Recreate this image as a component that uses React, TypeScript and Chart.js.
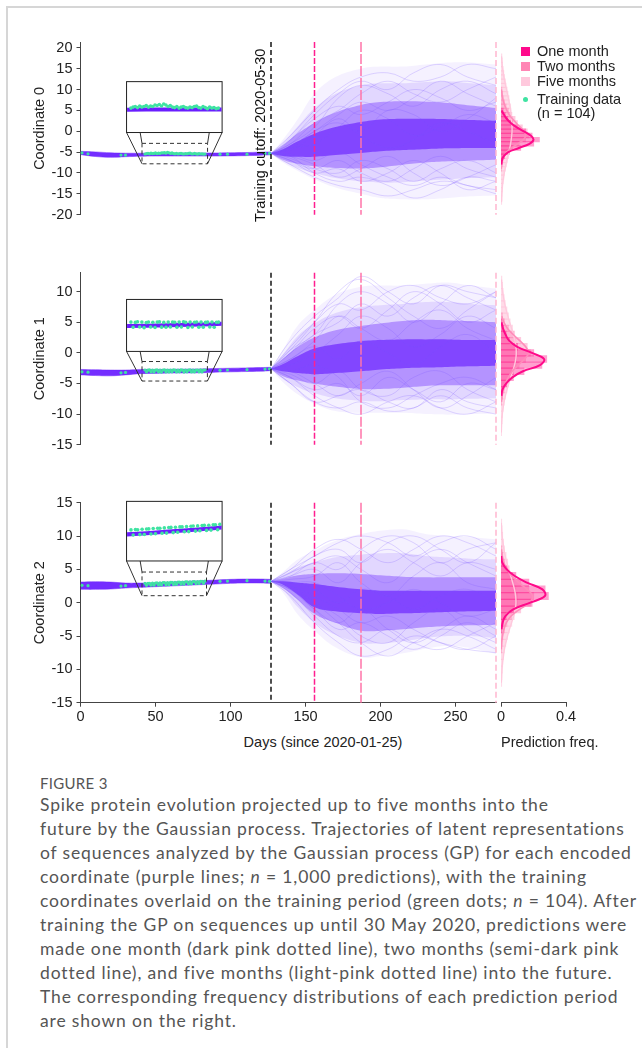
import React, { useEffect, useRef } from "react";
import { Chart, registerables } from "chart.js";

Chart.register(...registerables);

const AXIS_FONT = "'Liberation Sans', Arial, Helvetica, sans-serif";
const CAPTION_FONT = "Lato, 'Open Sans', sans-serif";
Chart.defaults.font.family = AXIS_FONT;
Chart.defaults.font.size = 14.5;
Chart.defaults.color = "#222";

// ---------- shared x data ----------
const xTicks = [0, 50, 100, 150, 200, 250];
const dayMax = 277;
const freqTicks = [0, 0.4];
const freqMax = 0.4;
const milestoneDays = [127, 156, 187, 277];
const milestoneColors = ["#151515", "#ff1f8f", "#ff74a9", "#ffb6cf"];
const milestoneDash = [[5, 3], [6, 2], [10, 2], [6, 3]];
const cutoffLabel = "Training cutoff: 2020-05-30";

const fanDays = [127, 135, 145, 156, 170, 187, 200, 215, 230, 245, 260, 277];
const trajDays = [127, 140, 156, 172, 187, 205, 222, 240, 258, 277];
const trainBandDays = [0, 10, 20, 30, 40, 50, 60, 70, 80, 90, 100, 110, 120, 127];
const trainDays = [1, 5, 27, 30,
  43, 44, 45, 46, 47, 48, 49, 50, 51, 52, 53, 54, 55, 56, 57, 58, 59, 60, 61, 62, 63,
  64, 65, 66, 67, 68, 69, 70, 71, 72, 73, 74, 75, 76, 77, 78, 79, 80, 81, 82, 83,
  93, 98, 111, 123, 126];

// ---------- legend ----------
const legendLabels = ["One month", "Two months", "Five months"];
const legendColors = ["#ff0a8c", "#ff86b5", "#ffc9dd"];
const trainingLabel = ["Training data", "(n = 104)"];

// ---------- Coordinate 0 ----------
const c0YTicks = [20, 15, 10, 5, 0, -5, -10, -15, -20];
const c0TrainHi = [-4.8, -4.95, -5.15, -5.25, -5.25, -5.2, -5.2, -5.2, -5.2, -5.2, -5.15, -5.1, -5.0, -4.95];
const c0TrainLo = [-5.6, -6.05, -6.25, -6.1, -6.0, -5.95, -5.95, -5.95, -5.95, -5.95, -5.9, -5.85, -5.75, -5.65];
const c0TrainVals = [-5.2, -5.4, -5.7, -5.7,
  -5.45, -5.35, -5.3, -5.4, -5.25, -5.35, -5.3, -5.2, -5.35, -5.25, -5.3, -5.15, -5.2, -5.1, -5.25, -5.05, -5.15, -5.3, -5.2, -5.35, -5.4,
  -5.3, -5.45, -5.35, -5.3, -5.4, -5.45, -5.35, -5.4, -5.3, -5.25, -5.4, -5.45, -5.3, -5.4, -5.5, -5.35, -5.45, -5.4, -5.5, -5.45,
  -5.5, -5.5, -5.5, -5.3, -5.3];
const c0OuterHi = [-5.3, -2.0, 3.0, 9.0, 13.0, 15.0, 15.5, 15.5, 16.0, 16.5, 16.5, 16.0];
const c0OuterLo = [-5.3, -7.5, -9.5, -11.5, -13.5, -15.0, -16.0, -16.3, -16.3, -16.0, -15.6, -15.4];
const c0WideHi = [-5.3, -2.8, 1.2, 5.5, 9.0, 11.0, 11.5, 11.5, 11.8, 12.0, 11.5, 11.0];
const c0WideLo = [-5.3, -7.2, -8.8, -10.0, -11.2, -12.0, -12.3, -12.2, -11.8, -11.5, -11.2, -11.0];
const c0MidHi = [-5.3, -3.5, -0.5, 2.0, 4.5, 6.3, 7.0, 7.2, 7.1, 6.8, 6.2, 5.6];
const c0MidLo = [-5.3, -6.8, -7.8, -8.4, -8.8, -8.9, -8.6, -8.0, -7.5, -7.2, -7.0, -6.8];
const c0CoreHi = [-5.3, -4.3, -2.4, -0.6, 1.0, 2.2, 2.8, 3.0, 3.0, 2.9, 2.7, 2.5];
const c0CoreLo = [-5.3, -5.9, -6.1, -6.1, -5.7, -5.2, -4.8, -4.5, -4.3, -4.1, -4.0, -4.0];
const c0Traj = [
  [-5.3, -1, 5, 10, 13, 14, 12, 13, 16, 15],
  [-5.3, -8, -11, -13, -14, -15.5, -14, -12, -13, -15],
  [-5.3, -2, 3, 6, 4, 7, 10, 8, 5, 7],
  [-5.3, -7, -9, -7, -10, -12, -9, -6, -9, -11],
  [-5.3, -4, 0, 2, -1, -4, -2, 2, 0, -3],
  [-5.3, -3, 1, 8, 11, 9, 6, 10, 12, 9],
  [-5.3, -6, -8, -11, -9, -6, -10, -13, -11, -8],
  [-5.3, -4, -3, 1, 5, 3, -1, 1, 4, 2],
  [-5.3, -2, 4, 9, 12, 10, 14, 16, 13, 11],
  [-5.3, -6, -10, -12, -11, -13, -16, -14, -11, -12],
  [-5.3, -3, 2, 5, 9, 12, 9, 7, 10, 13],
  [-5.3, -7, -10, -9, -12, -10, -7, -10, -14, -12],
  [-5.3, -3.5, 0, 4, 7, 5, 8, 12, 9, 6],
  [-5.3, -6.5, -9, -10, -7, -9, -12, -9, -7, -10],
  [-5.3, -4.5, -1, 3, 0, 5, 4, 0, 3, 8],
  [-5.3, -5.5, -7, -5, -8, -11, -13, -11, -13, -14],
];
const c0Bins = [18, 17, 16, 15, 14, 13, 12, 11, 10, 9, 8, 7, 6, 5, 4, 3, 2, 1, 0, -1, -2, -3, -4, -5, -6, -7, -8, -9, -10, -11, -12, -13, -14, -15, -16, -17];
const c0OneHist = [0, 0, 0, 0, 0, 0, 0, 0, 0, 0, 0, 0, 0, 0.012, 0.025, 0.04, 0.07, 0.1, 0.15, 0.19, 0.235, 0.2, 0.12, 0.05, 0.02, 0.008, 0.003, 0, 0, 0, 0, 0, 0, 0, 0, 0];
const c0OneKde = [null, null, null, null, null, null, null, null, null, null, null, null, null, 0.004, 0.018, 0.035, 0.06, 0.095, 0.14, 0.182, 0.2, 0.175, 0.11, 0.045, 0.016, 0.006, 0.002, null, null, null, null, null, null, null, null, null];
const c0TwoHist = [0, 0, 0, 0, 0, 0, 0, 0, 0.004, 0.008, 0.012, 0.02, 0.03, 0.045, 0.06, 0.085, 0.1, 0.13, 0.16, 0.17, 0.15, 0.11, 0.07, 0.04, 0.02, 0.01, 0.005, 0.002, 0, 0, 0, 0, 0, 0, 0, 0];
const c0TwoKde = [null, null, null, null, null, null, null, null, 0.003, 0.006, 0.01, 0.016, 0.025, 0.036, 0.05, 0.07, 0.093, 0.118, 0.142, 0.152, 0.138, 0.103, 0.065, 0.035, 0.018, 0.009, 0.004, 0.002, null, null, null, null, null, null, null, null];
const c0FiveHist = [0.004, 0.006, 0.008, 0.012, 0.016, 0.02, 0.026, 0.03, 0.036, 0.042, 0.048, 0.05, 0.058, 0.06, 0.066, 0.068, 0.07, 0.072, 0.07, 0.068, 0.066, 0.06, 0.056, 0.05, 0.045, 0.038, 0.032, 0.026, 0.02, 0.016, 0.012, 0.009, 0.007, 0.005, 0.004, 0.003];
const c0FiveKde = [0.003, 0.005, 0.007, 0.01, 0.014, 0.018, 0.023, 0.028, 0.034, 0.039, 0.045, 0.05, 0.055, 0.059, 0.062, 0.065, 0.067, 0.068, 0.068, 0.066, 0.063, 0.059, 0.054, 0.048, 0.042, 0.036, 0.03, 0.025, 0.02, 0.016, 0.012, 0.009, 0.007, 0.005, 0.004, 0.003];
const c0Inset = [30.7, 94.4, -0.3, 11.9];
const c0Window = [41, 84.7, -7.8, -2.9];

// ---------- Coordinate 1 ----------
const c1YTicks = [10, 5, 0, -5, -10, -15];
const c1TrainHi = [-2.7, -2.75, -2.8, -2.8, -2.7, -2.7, -2.68, -2.65, -2.62, -2.55, -2.5, -2.45, -2.4, -2.35];
const c1TrainLo = [-3.6, -3.7, -3.75, -3.6, -3.4, -3.35, -3.3, -3.28, -3.25, -3.15, -3.1, -3.05, -3.0, -2.9];
const c1TrainVals = [-3.1, -3.15, -3.25, -3.2,
  -2.8, -3.12, -2.82, -2.78, -3.1, -2.8, -3.14, -2.83, -2.79, -3.1, -2.81, -3.13, -2.8, -2.78, -3.11, -2.82, -3.12, -2.8, -3.1, -2.79, -2.81,
  -3.12, -2.8, -3.1, -2.78, -2.82, -3.13, -2.8, -3.1, -2.81, -2.79, -3.12, -2.8, -3.11, -2.82, -2.8, -3.1, -2.79, -3.12, -2.81, -2.8,
  -2.85, -2.8, -2.75, -2.65, -2.6];
const c1OuterHi = [-2.6, 0.5, 4.5, 7.0, 9.5, 10.8, 11.0, 11.0, 11.3, 11.5, 11.0, 10.5];
const c1OuterLo = [-2.6, -4.8, -6.8, -8.3, -9.5, -9.8, -9.8, -9.8, -10.0, -10.1, -10.0, -9.9];
const c1WideHi = [-2.6, -0.3, 2.8, 4.8, 6.5, 7.5, 7.8, 8.0, 8.3, 8.3, 8.0, 7.8];
const c1WideLo = [-2.6, -4.3, -5.6, -6.6, -7.4, -7.8, -7.9, -7.7, -7.6, -7.6, -7.5, -7.4];
const c1MidHi = [-2.6, -1.0, 1.0, 2.5, 3.7, 4.4, 4.8, 5.2, 5.4, 5.3, 5.2, 5.0];
const c1MidLo = [-2.6, -3.8, -4.5, -5.0, -5.5, -5.9, -5.9, -5.7, -5.4, -5.3, -5.3, -5.3];
const c1CoreHi = [-2.6, -1.8, -0.5, 0.7, 1.4, 1.9, 2.1, 2.2, 2.2, 2.2, 2.1, 2.1];
const c1CoreLo = [-2.6, -3.0, -3.3, -3.5, -3.3, -3.0, -2.7, -2.5, -2.4, -2.3, -2.2, -2.1];
const c1Traj = [
  [-2.6, 2, 6, 9, 12.5, 10, 8, 11, 10, 9],
  [-2.6, -5, -8, -9, -8, -9.5, -9, -7, -9, -10],
  [-2.6, 0, 4, 6, 4, 7, 10, 8, 5, 7],
  [-2.6, -4, -6, -5, -7, -4, -6, -8, -5, -6],
  [-2.6, -1, 1, -1, 2, 0, -2, 1, 3, 0],
  [-2.6, 0.5, 3, 8, 10, 8, 5, 8, 11, 9],
  [-2.6, -3, -5, -7, -5, -3, -6, -9, -7, -4],
  [-2.6, -2, 0, 3, 6, 4, 1, 3, 6, 4],
  [-2.6, 1, 5, 8, 7, 10, 11, 9, 8, 10],
  [-2.6, -4, -7, -9, -10, -8, -7, -9, -10, -8],
  [-2.6, 0, 3, 5, 8, 6, 9, 11, 9, 7],
  [-2.6, -5, -8, -7, -6, -8, -9, -6, -8, -9],
  [-2.6, -1, 2, 6, 4, 2, 5, 7, 4, 2],
  [-2.6, -3.5, -5, -3, -6, -7, -4, -3, -6, -8],
  [-2.6, 0.5, 5, 10, 12, 9, 6, 4, 7, 10],
  [-2.6, -3, -2, -4, -8, -9, -7, -5, -4, -6],
];
const c1Bins = [12, 11, 10, 9, 8, 7, 6, 5, 4, 3, 2, 1, 0, -1, -2, -3, -4, -5, -6, -7, -8, -9, -10, -11, -12, -13];
const c1OneHist = [0, 0, 0, 0, 0, 0, 0, 0.006, 0.015, 0.03, 0.05, 0.1, 0.2, 0.28, 0.25, 0.14, 0.075, 0.035, 0.01, 0.004, 0, 0, 0, 0, 0, 0];
const c1OneKde = [null, null, null, null, null, null, null, 0.003, 0.012, 0.028, 0.05, 0.1, 0.19, 0.265, 0.24, 0.135, 0.07, 0.032, 0.009, 0.003, null, null, null, null, null, null];
const c1TwoHist = [0, 0, 0, 0, 0, 0, 0.008, 0.02, 0.045, 0.08, 0.12, 0.16, 0.18, 0.15, 0.11, 0.075, 0.05, 0.03, 0.018, 0.008, 0.003, 0, 0, 0, 0, 0];
const c1TwoKde = [null, null, null, null, null, null, 0.005, 0.018, 0.04, 0.075, 0.115, 0.152, 0.17, 0.145, 0.105, 0.07, 0.045, 0.027, 0.015, 0.007, 0.003, null, null, null, null, null];
const c1FiveHist = [0.004, 0.008, 0.012, 0.018, 0.025, 0.035, 0.045, 0.055, 0.07, 0.08, 0.09, 0.1, 0.1, 0.095, 0.085, 0.07, 0.058, 0.045, 0.035, 0.025, 0.018, 0.012, 0.008, 0.005, 0.003, 0.002];
const c1FiveKde = [0.003, 0.006, 0.01, 0.016, 0.023, 0.032, 0.042, 0.053, 0.065, 0.076, 0.085, 0.092, 0.094, 0.091, 0.083, 0.072, 0.06, 0.048, 0.037, 0.027, 0.019, 0.013, 0.008, 0.005, 0.003, 0.002];
const c1Inset = [30.7, 94.4, 0.24, 8.73];
const c1Window = [41, 84.6, -4.6, -1.41];

// ---------- Coordinate 2 ----------
const c2YTicks = [15, 10, 5, 0, -5, -10, -15];
const c2TrainHi = [3.1, 3.15, 3.1, 2.95, 2.95, 3.0, 3.1, 3.2, 3.3, 3.4, 3.5, 3.55, 3.55, 3.5];
const c2TrainLo = [2.0, 2.0, 2.05, 2.2, 2.3, 2.4, 2.5, 2.6, 2.7, 2.8, 2.9, 2.95, 2.95, 2.9];
const c2TrainVals = [2.6, 2.55, 2.5, 2.55,
  2.9, 2.6, 2.92, 2.91, 2.62, 2.94, 2.63, 2.95, 2.96, 2.66, 2.98, 2.67, 3.0, 3.0, 2.7, 3.02, 2.71, 3.04, 3.05, 2.74, 3.06,
  2.76, 3.08, 3.08, 2.79, 3.1, 2.8, 3.12, 3.13, 2.83, 3.14, 2.85, 3.16, 3.17, 2.87, 3.18, 2.89, 3.2, 3.21, 2.91, 3.23,
  3.2, 3.25, 3.3, 3.25, 3.2];
const c2OuterHi = [3.2, 4.6, 6.5, 7.8, 9.3, 10.3, 10.8, 11.0, 10.3, 10.0, 9.8, 9.5];
const c2OuterLo = [3.2, 1.5, -1.8, -4.2, -6.7, -8.2, -8.0, -7.6, -6.9, -6.5, -6.8, -7.7];
const c2WideHi = [3.2, 4.1, 5.3, 6.0, 6.8, 7.2, 7.4, 7.4, 7.0, 6.8, 6.6, 6.5];
const c2WideLo = [3.2, 1.9, -0.7, -3.0, -4.8, -6.0, -6.1, -5.8, -5.3, -5.0, -5.0, -5.3];
const c2MidHi = [3.2, 3.6, 4.1, 4.3, 4.4, 4.3, 4.1, 3.9, 3.8, 3.8, 3.8, 3.8];
const c2MidLo = [3.2, 2.2, 0.4, -1.7, -3.0, -4.2, -4.2, -4.0, -3.7, -3.5, -3.4, -3.3];
const c2CoreHi = [3.2, 3.2, 3.0, 2.8, 2.4, 2.0, 1.8, 1.8, 1.8, 1.8, 1.8, 1.8];
const c2CoreLo = [3.2, 2.7, 1.2, -0.7, -1.3, -1.6, -1.7, -1.6, -1.5, -1.4, -1.3, -1.2];
const c2Traj = [
  [3.2, 5, 7, 9, 10, 9, 7, 9, 10, 8],
  [3.2, 1, -3, -6, -8, -7, -5, -6, -7, -7.5],
  [3.2, 4, 5, 3, 6, 8, 6, 4, 6, 5],
  [3.2, 2, -1, -3, -1, -4, -6, -4, -2, -4],
  [3.2, 3, 2, 0, 2, 1, -1, 1, 2, 0],
  [3.2, 4.5, 6, 7, 5, 3, 6, 8, 6, 4],
  [3.2, 2, 0, -2, -5, -6, -3, -1, -4, -6],
  [3.2, 3, 3, 1, -1, 0, 2, 0, -2, -1],
  [3.2, 4.5, 7, 8, 6, 9, 10, 8, 6, 9],
  [3.2, 1.5, -2, -5, -6, -4, -6, -7, -5, -3],
  [3.2, 4, 6, 5, 8, 10, 9, 6, 8, 9],
  [3.2, 2.5, 0, -3, -6, -8, -6, -4, -5, -7],
  [3.2, 3.5, 4, 6, 3, 1, 4, 6, 3, 2],
  [3.2, 2, -1, -4, -3, -5, -7, -5, -3, -5],
  [3.2, 5, 8, 9.5, 8, 6, 8, 10, 9, 7],
  [3.2, 2.5, 1, -1, -3, -2, -4, -6, -7, -5],
];
const c2Bins = [12, 11, 10, 9, 8, 7, 6, 5, 4, 3, 2, 1, 0, -1, -2, -3, -4, -5, -6, -7, -8, -9, -10, -11, -12];
const c2OneHist = [0, 0, 0, 0, 0, 0.004, 0.012, 0.04, 0.09, 0.17, 0.27, 0.29, 0.19, 0.08, 0.03, 0.012, 0.004, 0, 0, 0, 0, 0, 0, 0, 0];
const c2OneKde = [null, null, null, null, null, 0.002, 0.008, 0.035, 0.085, 0.16, 0.255, 0.27, 0.18, 0.075, 0.027, 0.01, 0.003, null, null, null, null, null, null, null, null];
const c2TwoHist = [0, 0, 0, 0, 0.004, 0.01, 0.02, 0.04, 0.07, 0.12, 0.17, 0.2, 0.18, 0.12, 0.065, 0.035, 0.02, 0.01, 0.005, 0.002, 0, 0, 0, 0, 0];
const c2TwoKde = [null, null, null, null, 0.003, 0.008, 0.018, 0.037, 0.066, 0.11, 0.16, 0.195, 0.175, 0.115, 0.062, 0.033, 0.018, 0.009, 0.004, 0.002, null, null, null, null, null];
const c2FiveHist = [0.003, 0.005, 0.009, 0.014, 0.02, 0.03, 0.04, 0.05, 0.065, 0.078, 0.09, 0.1, 0.1, 0.092, 0.08, 0.065, 0.05, 0.038, 0.028, 0.02, 0.014, 0.009, 0.006, 0.004, 0.002];
const c2FiveKde = [0.002, 0.004, 0.007, 0.012, 0.018, 0.026, 0.036, 0.047, 0.06, 0.072, 0.083, 0.09, 0.092, 0.088, 0.078, 0.065, 0.052, 0.04, 0.03, 0.021, 0.015, 0.01, 0.006, 0.004, 0.002];
const c2Inset = [30.7, 94.4, 6.26, 15.2];
const c2Window = [41, 84, 1.05, 4.6];

// ---------- caption ----------
const figureLabel = "FIGURE 3";
const captionLines: (string | { t: string; i?: boolean })[][] = [
  ["Spike protein evolution projected up to five months into the"],
  ["future by the Gaussian process. Trajectories of latent representations"],
  ["of sequences analyzed by the Gaussian process (GP) for each encoded"],
  ["coordinate (purple lines; ", { t: "n", i: true }, " = 1,000 predictions), with the training"],
  ["coordinates overlaid on the training period (green dots; ", { t: "n", i: true }, " = 104). After"],
  ["training the GP on sequences up until 30 May 2020, predictions were"],
  ["made one month (dark pink dotted line), two months (semi-dark pink"],
  ["dotted line), and five months (light-pink dotted line) into the future."],
  ["The corresponding frequency distributions of each prediction period"],
  ["are shown on the right."],
];

type Panel = {
  title: string; yMin: number; yMax: number; yTicks: number[];
  trainHi: number[]; trainLo: number[]; trainVals: number[];
  outerHi: number[]; outerLo: number[]; wideHi: number[]; wideLo: number[];
  midHi: number[]; midLo: number[]; coreHi: number[]; coreLo: number[];
  traj: number[][];
  bins: number[]; oneHist: number[]; twoHist: number[]; fiveHist: number[];
  oneKde: (number | null)[]; twoKde: (number | null)[]; fiveKde: (number | null)[];
  inset: number[]; win: number[];
  top: number; height: number; padTop: number; showX: boolean; showCutoff: boolean;
};

const panels: Panel[] = [
  { title: "Coordinate 0", yMin: -20, yMax: 21.4, yTicks: c0YTicks, trainHi: c0TrainHi, trainLo: c0TrainLo, trainVals: c0TrainVals,
    outerHi: c0OuterHi, outerLo: c0OuterLo, wideHi: c0WideHi, wideLo: c0WideLo, midHi: c0MidHi, midLo: c0MidLo, coreHi: c0CoreHi, coreLo: c0CoreLo, traj: c0Traj,
    bins: c0Bins, oneHist: c0OneHist, twoHist: c0TwoHist, fiveHist: c0FiveHist, oneKde: c0OneKde, twoKde: c0TwoKde, fiveKde: c0FiveKde,
    inset: c0Inset, win: c0Window, top: 0, height: 250, padTop: 42, showX: false, showCutoff: true },
  { title: "Coordinate 1", yMin: -15, yMax: 13.1, yTicks: c1YTicks, trainHi: c1TrainHi, trainLo: c1TrainLo, trainVals: c1TrainVals,
    outerHi: c1OuterHi, outerLo: c1OuterLo, wideHi: c1WideHi, wideLo: c1WideLo, midHi: c1MidHi, midLo: c1MidLo, coreHi: c1CoreHi, coreLo: c1CoreLo, traj: c1Traj,
    bins: c1Bins, oneHist: c1OneHist, twoHist: c1TwoHist, fiveHist: c1FiveHist, oneKde: c1OneKde, twoKde: c1TwoKde, fiveKde: c1FiveKde,
    inset: c1Inset, win: c1Window, top: 250, height: 230, padTop: 22.7, showX: false, showCutoff: false },
  { title: "Coordinate 2", yMin: -15, yMax: 15, yTicks: c2YTicks, trainHi: c2TrainHi, trainLo: c2TrainLo, trainVals: c2TrainVals,
    outerHi: c2OuterHi, outerLo: c2OuterLo, wideHi: c2WideHi, wideLo: c2WideLo, midHi: c2MidHi, midLo: c2MidLo, coreHi: c2CoreHi, coreLo: c2CoreLo, traj: c2Traj,
    bins: c2Bins, oneHist: c2OneHist, twoHist: c2TwoHist, fiveHist: c2FiveHist, oneKde: c2OneKde, twoKde: c2TwoKde, fiveKde: c2FiveKde,
    inset: c2Inset, win: c2Window, top: 480, height: 250, padTop: 22.7, showX: true, showCutoff: false },
];

const X_AXIS_H = 27.3;
const MAIN_W = 500;
const HIST_LEFT = 490;
const HIST_W = 150;

const pts = (xs: number[], ys: (number | null)[]) =>
  xs.map((x, i) => ({ x, y: ys[i] })).filter((p) => p.y !== null);
const hpts = (bins: number[], f: (number | null)[], dropZero: boolean) =>
  bins.map((b, i) => ({ x: f[i], y: b })).filter((p) => p.x !== null && (!dropZero || (p.x as number) > 0));

function overlayPlugin(p: Panel) {
  return {
    id: "panelOverlay",
    afterDatasetsDraw(chart: any) {
      const { ctx, chartArea } = chart;
      const xs = chart.scales.x;
      const ys = chart.scales.y;
      const [wx0, wx1, wy0, wy1] = p.win;
      const [bx0, bx1, by0, by1] = p.inset;
      const wl = xs.getPixelForValue(wx0), wr = xs.getPixelForValue(wx1);
      const wt = ys.getPixelForValue(wy1), wb = ys.getPixelForValue(wy0);
      const bl = xs.getPixelForValue(bx0), br = xs.getPixelForValue(bx1);
      const bt = ys.getPixelForValue(by1), bb = ys.getPixelForValue(by0);
      ctx.save();
      ctx.strokeStyle = "#333";
      ctx.lineWidth = 1;
      ctx.setLineDash([4, 3]);
      ctx.strokeRect(wl, wt, wr - wl, wb - wt);
      ctx.setLineDash([]);
      ctx.beginPath();
      ctx.moveTo(bl, bb); ctx.lineTo(wl, wb);
      ctx.moveTo(bl + 0.88 * (wl - bl), bb); ctx.lineTo(wl, wt);
      ctx.moveTo(br, bb); ctx.lineTo(wr, wb);
      ctx.moveTo(br - 0.88 * (br - wr), bb); ctx.lineTo(wr, wt);
      ctx.stroke();
      ctx.fillStyle = "#fff";
      ctx.fillRect(bl, bt, br - bl, bb - bt);
      ctx.strokeStyle = "#222";
      ctx.strokeRect(bl, bt, br - bl, bb - bt);
      ctx.save();
      ctx.beginPath();
      ctx.rect(bl + 0.5, bt + 0.5, br - bl - 1, bb - bt - 1);
      ctx.clip();
      const tx = (d: number) => bl + ((d - wx0) / (wx1 - wx0)) * (br - bl);
      const ty = (v: number) => bb - ((v - wy0) / (wy1 - wy0)) * (bb - bt);
      ctx.strokeStyle = "#6a1eff";
      ctx.lineWidth = 4;
      ctx.lineJoin = "round";
      ctx.beginPath();
      trainBandDays.forEach((d, i) => {
        const v = (p.trainHi[i] + p.trainLo[i]) / 2;
        if (i === 0) ctx.moveTo(tx(d), ty(v)); else ctx.lineTo(tx(d), ty(v));
      });
      ctx.stroke();
      ctx.fillStyle = "#3fe3a2";
      trainDays.forEach((d, i) => {
        if (d >= wx0 && d <= wx1) {
          ctx.beginPath();
          ctx.arc(tx(d), ty(p.trainVals[i]), 1.8, 0, Math.PI * 2);
          ctx.fill();
        }
      });
      ctx.restore();
      milestoneDays.forEach((d, i) => {
        const px = xs.getPixelForValue(d);
        ctx.save();
        ctx.strokeStyle = milestoneColors[i];
        ctx.lineWidth = 1.5;
        ctx.setLineDash(milestoneDash[i]);
        ctx.beginPath();
        ctx.moveTo(px, chartArea.top);
        ctx.lineTo(px, chartArea.bottom);
        ctx.stroke();
        ctx.restore();
      });
      if (p.showCutoff) {
        const px = xs.getPixelForValue(milestoneDays[0]);
        ctx.save();
        ctx.translate(px - 10, (chartArea.top + chartArea.bottom) / 2 + 7);
        ctx.rotate(-Math.PI / 2);
        ctx.font = `14.5px ${AXIS_FONT}`;
        ctx.fillStyle = "#111";
        ctx.textAlign = "center";
        ctx.textBaseline = "middle";
        ctx.fillText(cutoffLabel, 0, 0);
        ctx.restore();
      }
      ctx.restore();
    },
  };
}

function buildMain(p: Panel) {
  const datasets: any[] = [];
  const band = (days: number[], hi: number[], lo: number[], color: string, order: number, tension: number) => {
    datasets.push({ type: "line", data: pts(days, hi), borderWidth: 0, borderColor: "rgba(0,0,0,0)", pointRadius: 0, backgroundColor: color, fill: "+1", tension, order });
    datasets.push({ type: "line", data: pts(days, lo), borderWidth: 0, borderColor: "rgba(0,0,0,0)", pointRadius: 0, fill: false, tension, order });
  };
  band(fanDays, p.outerHi, p.outerLo, "rgba(125, 80, 255, 0.08)", 10, 0.4);
  band(fanDays, p.wideHi, p.wideLo, "rgba(118, 66, 255, 0.15)", 9, 0.4);
  band(fanDays, p.midHi, p.midLo, "rgba(106, 36, 255, 0.38)", 8, 0.4);
  band(fanDays, p.coreHi, p.coreLo, "rgba(94, 16, 255, 0.58)", 7, 0.4);
  p.traj.forEach((t) => {
    datasets.push({ type: "line", data: pts(trajDays, t), borderWidth: 1, borderColor: "rgba(120, 80, 255, 0.22)", pointRadius: 0, fill: false, tension: 0.4, order: 6 });
  });
  datasets.push({ type: "line", data: pts(trainBandDays, p.trainHi), borderWidth: 0.5, borderColor: "rgba(104, 28, 255, 0.9)", pointRadius: 0, backgroundColor: "rgba(104, 28, 255, 0.92)", fill: "+1", tension: 0.4, order: 2 });
  datasets.push({ type: "line", data: pts(trainBandDays, p.trainLo), borderWidth: 0.5, borderColor: "rgba(104, 28, 255, 0.9)", pointRadius: 0, fill: false, tension: 0.4, order: 2 });
  datasets.push({ type: "line", data: pts(trainDays, p.trainVals), showLine: false, pointRadius: 1.6, pointBackgroundColor: "#3fe3a2", pointBorderWidth: 0, order: 1 });

  return {
    type: "line",
    data: { datasets },
    options: {
      responsive: false,
      animation: false,
      events: [],
      layout: { padding: { left: 27, right: 3, top: p.padTop, bottom: p.showX ? 0 : 8 } },
      plugins: { legend: { display: false }, tooltip: { enabled: false } },
      scales: {
        x: {
          type: "linear", min: 0, max: dayMax, display: p.showX,
          afterBuildTicks: (s: any) => { s.ticks = xTicks.map((value) => ({ value })); },
          afterFit: (s: any) => { s.height = X_AXIS_H; },
          grid: { drawOnChartArea: false, tickLength: 4, color: "#444" },
          border: { color: "#444", width: 1 },
          ticks: { padding: 2, color: "#222", maxRotation: 0, callback: (v: any) => String(v) },
        },
        y: {
          type: "linear", min: p.yMin, max: p.yMax,
          afterBuildTicks: (s: any) => { s.ticks = p.yTicks.map((value) => ({ value })); },
          afterFit: (s: any) => { s.width = 53.5; },
          grid: { drawOnChartArea: false, tickLength: 4, color: "#444" },
          border: { color: "#444", width: 1 },
          ticks: { padding: 4, color: "#222", callback: (v: any) => String(v) },
          title: { display: true, text: p.title, color: "#222", padding: { top: 4, bottom: 4 } },
        },
      },
    },
    plugins: [overlayPlugin(p)],
  };
}

function buildHist(p: Panel) {
  const bar = (f: number[], color: string, order: number) => ({
    type: "bar", data: hpts(p.bins, f, true), backgroundColor: color, borderWidth: 0,
    grouped: false, barPercentage: 1, categoryPercentage: 1, inflateAmount: 0.6, order,
  });
  const kde = (f: (number | null)[], color: string, w: number, order: number) => ({
    type: "line", data: hpts(p.bins, f, false), borderColor: color, borderWidth: w, pointRadius: 0,
    fill: false, tension: 0.4, order,
  });
  return {
    type: "bar",
    data: {
      datasets: [
        kde(p.oneKde, "#ff0a8a", 2, 0),
        kde(p.twoKde, "#ff8cba", 1.6, 1),
        kde(p.fiveKde, "#ffc9dd", 1.4, 2),
        bar(p.oneHist, "rgba(255, 30, 140, 0.42)", 3),
        bar(p.twoHist, "rgba(255, 115, 170, 0.38)", 4),
        bar(p.fiveHist, "rgba(255, 175, 205, 0.45)", 5),
      ],
    },
    options: {
      indexAxis: "y",
      responsive: false,
      animation: false,
      events: [],
      layout: { padding: { left: 11, right: 74, top: p.padTop, bottom: p.showX ? 0 : 8 } },
      plugins: { legend: { display: false }, tooltip: { enabled: false } },
      scales: {
        x: {
          type: "linear", min: 0, max: freqMax, display: p.showX, offset: false,
          afterBuildTicks: (s: any) => { s.ticks = freqTicks.map((value) => ({ value })); },
          afterFit: (s: any) => { s.height = X_AXIS_H; },
          grid: { drawOnChartArea: false, tickLength: 4, color: "#444" },
          border: { color: "#444", width: 1 },
          ticks: { padding: 2, color: "#222", maxRotation: 0, callback: (v: any) => String(v) },
        },
        y: { type: "linear", min: p.yMin, max: p.yMax, display: false, offset: false },
      },
    },
  };
}

function ChartCanvas({ build, left, top, width, height }: { build: () => any; left: number; top: number; width: number; height: number }) {
  const ref = useRef<HTMLCanvasElement>(null);
  useEffect(() => {
    const chart = new Chart(ref.current as HTMLCanvasElement, build());
    return () => chart.destroy();
  }, []);
  return (
    <canvas ref={ref} width={width} height={height}
      style={{ position: "absolute", left, top, width, height }} />
  );
}

const axisText: React.CSSProperties = { position: "absolute", fontFamily: AXIS_FONT, fontSize: 14.5, color: "#222", lineHeight: "17px", whiteSpace: "nowrap" };

export default function App() {
  return (
    <div style={{ position: "absolute", left: 0, top: 0, width: 642, height: 1048, background: "#fff", overflow: "hidden" }}>
      <div style={{ position: "absolute", left: 6, top: 6, right: -4, bottom: -4, borderTop: "2px solid #d6d6d6", borderLeft: "2px solid #d6d6d6" }} />
      {panels.map((p, i) => (
        <React.Fragment key={i}>
          <ChartCanvas build={() => buildMain(p)} left={0} top={p.top} width={MAIN_W} height={p.height} />
          <ChartCanvas build={() => buildHist(p)} left={HIST_LEFT} top={p.top} width={HIST_W} height={p.height} />
        </React.Fragment>
      ))}
      {legendLabels.map((l, i) => (
        <div key={l} style={{ ...axisText, left: 521, top: 43 + i * 15 }}>
          <span style={{ position: "absolute", left: 0, top: 4, width: 9, height: 9, background: legendColors[i] }} />
          <span style={{ position: "absolute", left: 16, top: 0 }}>{l}</span>
        </div>
      ))}
      <div style={{ position: "absolute", left: 523, top: 96.5, width: 5, height: 5, borderRadius: 3, background: "#3fe3a2" }} />
      <div style={{ ...axisText, left: 537, top: 91 }}>{trainingLabel[0]}</div>
      <div style={{ ...axisText, left: 537, top: 105 }}>{trainingLabel[1]}</div>
      <div style={{ ...axisText, left: 323, top: 734, transform: "translateX(-50%)" }}>Days (since 2020-01-25)</div>
      <div style={{ ...axisText, left: 501, top: 734 }}>Prediction freq.</div>
      <div style={{ position: "absolute", left: 40, top: 774, fontFamily: CAPTION_FONT, fontSize: 15, color: "#555", letterSpacing: 0.3, lineHeight: "18px" }}>{figureLabel}</div>
      {captionLines.map((line, i) => (
        <div key={i} style={{ position: "absolute", left: 40, top: 793 + i * 24, fontFamily: CAPTION_FONT, fontSize: 17.5, letterSpacing: 0.85, color: "#555", lineHeight: "24px", whiteSpace: "nowrap" }}>
          {line.map((seg, j) => typeof seg === "string" ? <span key={j}>{seg}</span> : <i key={j}>{seg.t}</i>)}
        </div>
      ))}
    </div>
  );
}
